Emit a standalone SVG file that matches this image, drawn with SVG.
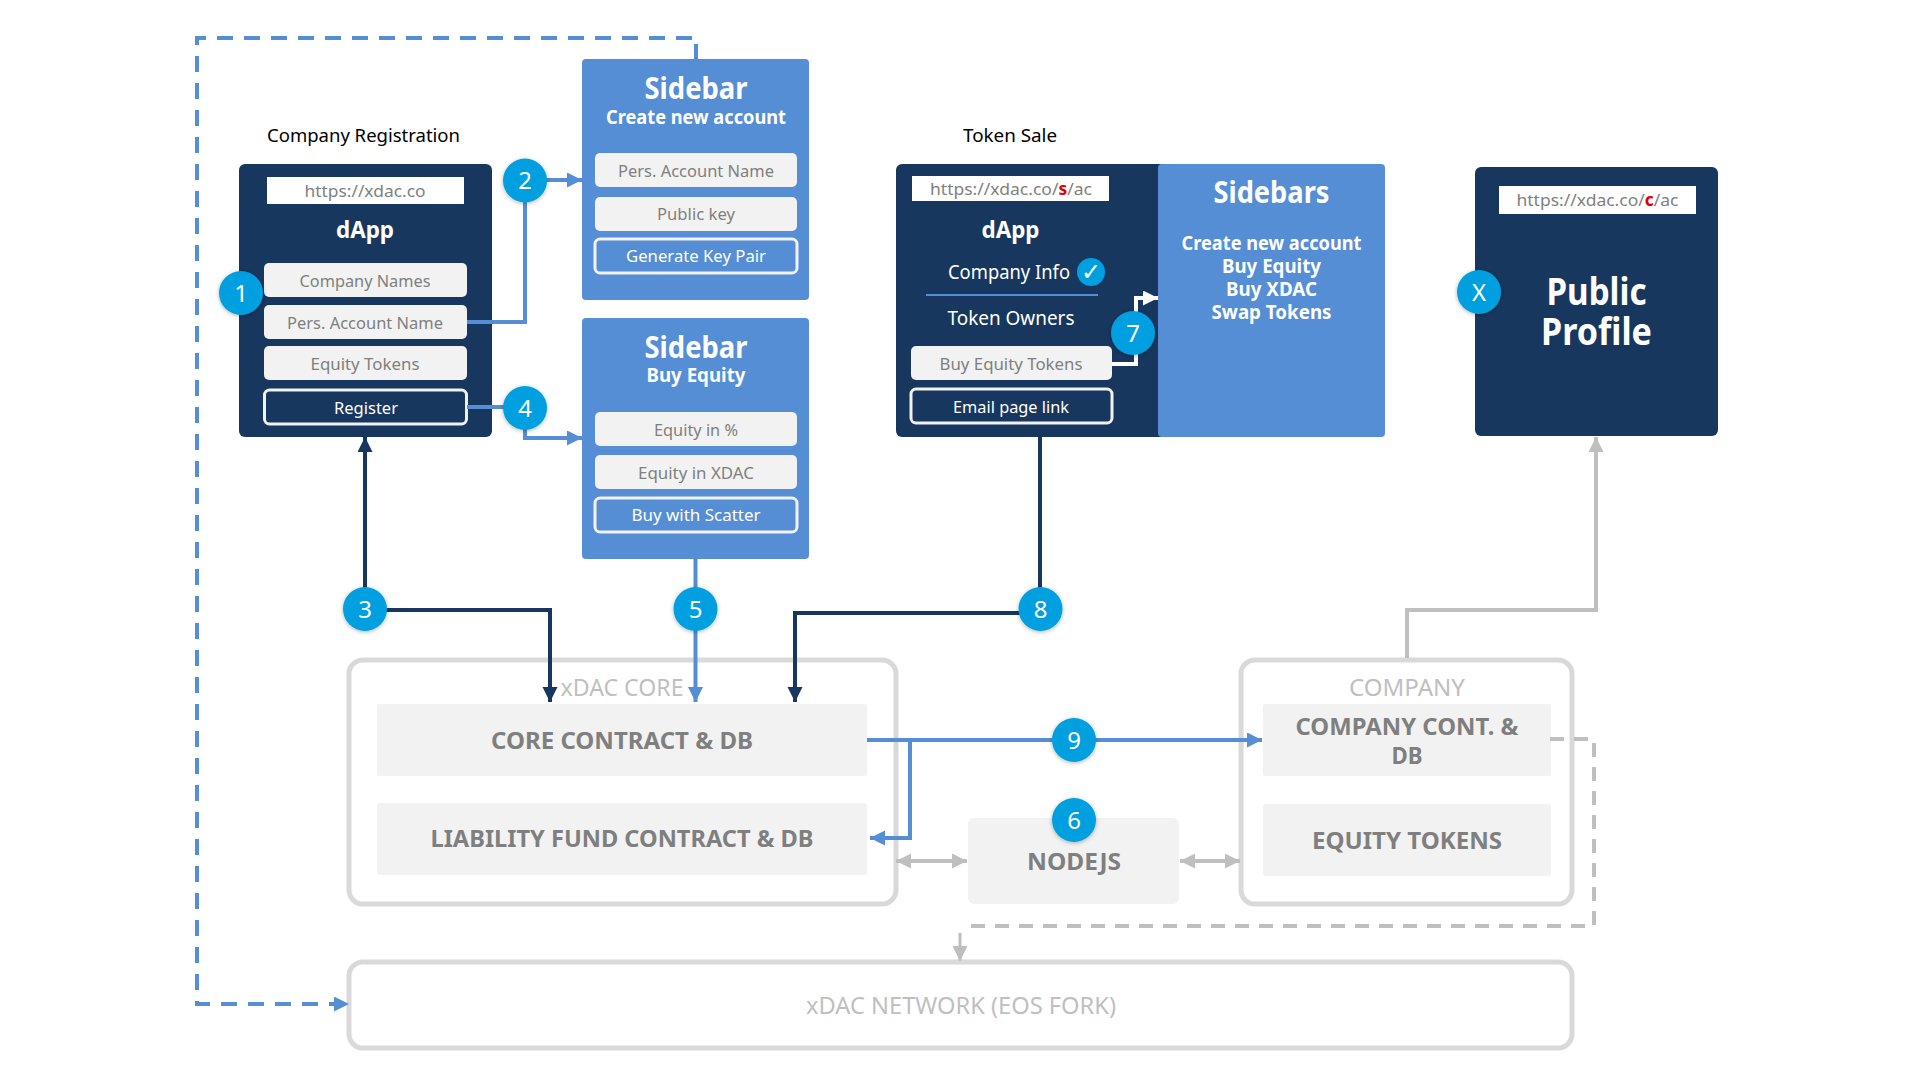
<svg xmlns="http://www.w3.org/2000/svg" width="1920" height="1080" viewBox="0 0 1920 1080">
<style>
text{font-family:"Noto Sans","Open Sans","Liberation Sans",sans-serif;text-anchor:middle}
.panel{fill:#17375e}
.side{fill:#558ed5}
.field{fill:#f2f2f2}
.btnD{fill:#17375e;stroke:#f2f2f2;stroke-width:3}
.btnS{fill:#558ed5;stroke:#f2f2f2;stroke-width:3}
.url{fill:#fff}
.container{fill:#fff;stroke:#d9d9d9;stroke-width:5}
.ft{font-size:17px;fill:#7f7f7f}
.wt{font-size:17px;fill:#fff}
.cap{font-size:18px;fill:#000}
.h1{font-size:30px;font-weight:700;fill:#fff}
.h2{font-size:20px;font-weight:700;fill:#fff}
.h3{font-size:23px;font-weight:700;fill:#fff}
.pub{font-size:37px;font-weight:700;fill:#fff}
.con{font-size:24px;font-weight:700;fill:#7f7f7f}
.lab{font-size:24px;fill:#bfbfbf}
.badge circle{fill:#009fdf;filter:url(#sh)}
.badge text{font-size:24px;fill:#fff}
.c{fill:none}
.dark{stroke:#17375e;stroke-width:4}
.blue{stroke:#558ed5;stroke-width:4}
.gray{stroke:#bfbfbf;stroke-width:4}
.white{stroke:#fff;stroke-width:4}
.dash{stroke-dasharray:16 11}
</style>
<defs>
<filter id="sh" x="-30%" y="-30%" width="160%" height="160%"><feDropShadow dx="0" dy="1" stdDeviation="2" flood-color="#000" flood-opacity="0.3"/></filter>
<marker id="aD" markerUnits="userSpaceOnUse" markerWidth="16" markerHeight="16" refX="15" refY="7.500" orient="auto"><path d="M0,0L15,7.500L0,15z" fill="#17375e"/></marker>
<marker id="aB" markerUnits="userSpaceOnUse" markerWidth="16" markerHeight="16" refX="15" refY="7.500" orient="auto"><path d="M0,0L15,7.500L0,15z" fill="#558ed5"/></marker>
<marker id="aG" markerUnits="userSpaceOnUse" markerWidth="16" markerHeight="16" refX="15" refY="7.500" orient="auto"><path d="M0,0L15,7.500L0,15z" fill="#bfbfbf"/></marker>
<marker id="aGs" markerUnits="userSpaceOnUse" markerWidth="16" markerHeight="16" refX="15" refY="7.500" orient="auto-start-reverse"><path d="M0,0L15,7.500L0,15z" fill="#bfbfbf"/></marker>
<marker id="aW" markerUnits="userSpaceOnUse" markerWidth="16" markerHeight="16" refX="15" refY="7.500" orient="auto"><path d="M0,0L15,7.500L0,15z" fill="#fff"/></marker>
</defs>

<text class="cap" x="363.500" y="142" textLength="193" lengthAdjust="spacingAndGlyphs">Company Registration</text>
<text class="cap" x="1010" y="142" textLength="94" lengthAdjust="spacingAndGlyphs">Token Sale</text>

<g id="node-dapp-registration">
<rect class="panel" x="239" y="164" width="253" height="273" rx="6"/>
<rect class="url" x="267" y="177" width="197" height="27"/>
<text class="ft" x="365" y="197" textLength="121" lengthAdjust="spacingAndGlyphs">https://xdac.co</text>
<text class="h3" x="365" y="238" textLength="58" lengthAdjust="spacingAndGlyphs">dApp</text>
<rect class="field" x="264" y="263" width="203" height="34" rx="5"/>
<text class="ft" x="365" y="287" textLength="131" lengthAdjust="spacingAndGlyphs">Company Names</text>
<rect class="field" x="264" y="305" width="203" height="34" rx="5"/>
<text class="ft" x="365" y="329" textLength="156" lengthAdjust="spacingAndGlyphs">Pers. Account Name</text>
<rect class="field" x="264" y="346" width="203" height="34" rx="5"/>
<text class="ft" x="365" y="370" textLength="109" lengthAdjust="spacingAndGlyphs">Equity Tokens</text>
<rect class="btnD" x="264.500" y="390" width="202" height="34" rx="5"/>
<text class="wt" x="366" y="414" textLength="64" lengthAdjust="spacingAndGlyphs">Register</text>
</g>

<g id="node-sidebar-create">
<rect class="side" x="582" y="59" width="227" height="241" rx="4"/>
<text class="h1" x="696" y="99" textLength="103" lengthAdjust="spacingAndGlyphs">Sidebar</text>
<text class="h2" x="696" y="124" textLength="180" lengthAdjust="spacingAndGlyphs">Create new account</text>
<rect class="field" x="595" y="153" width="202" height="34" rx="5"/>
<text class="ft" x="696" y="177" textLength="156" lengthAdjust="spacingAndGlyphs">Pers. Account Name</text>
<rect class="field" x="595" y="197" width="202" height="34" rx="5"/>
<text class="ft" x="696" y="220" textLength="78" lengthAdjust="spacingAndGlyphs">Public key</text>
<rect class="btnS" x="595" y="239" width="202" height="34" rx="5"/>
<text class="wt" x="696" y="262" textLength="140" lengthAdjust="spacingAndGlyphs">Generate Key Pair</text>
</g>

<g id="node-sidebar-buy">
<rect class="side" x="582" y="318" width="227" height="241" rx="4"/>
<text class="h1" x="696" y="358" textLength="103" lengthAdjust="spacingAndGlyphs">Sidebar</text>
<text class="h2" x="696" y="382" textLength="99" lengthAdjust="spacingAndGlyphs">Buy Equity</text>
<rect class="field" x="595" y="412" width="202" height="34" rx="5"/>
<text class="ft" x="696" y="436" textLength="84" lengthAdjust="spacingAndGlyphs">Equity in %</text>
<rect class="field" x="595" y="455" width="202" height="34" rx="5"/>
<text class="ft" x="696" y="479" textLength="116" lengthAdjust="spacingAndGlyphs">Equity in XDAC</text>
<rect class="btnS" x="595" y="498" width="202" height="34" rx="5"/>
<text class="wt" x="696" y="521" textLength="129" lengthAdjust="spacingAndGlyphs">Buy with Scatter</text>
</g>

<g id="node-token-sale">
<rect class="panel" x="896" y="164" width="280" height="273" rx="6"/>
<rect class="url" x="912" y="176" width="197" height="25"/>
<text class="ft" x="1011" y="195" textLength="162" lengthAdjust="spacingAndGlyphs">https://xdac.co/<tspan fill="#e00000" font-weight="700">s</tspan>/ac</text>
<text class="h3" x="1010.500" y="238" textLength="58" lengthAdjust="spacingAndGlyphs">dApp</text>
<text class="wt" x="1009" y="279" style="font-size:19px" textLength="122" lengthAdjust="spacingAndGlyphs">Company Info</text>
<circle cx="1091" cy="272" r="14" fill="#009fdf"/>
<text x="1091" y="280" style="font-family:'DejaVu Sans',sans-serif;font-size:24px;fill:#fff">✓</text>
<rect x="926" y="294" width="172" height="2" fill="#558ed5"/>
<text class="wt" x="1011" y="325" style="font-size:19px" textLength="127" lengthAdjust="spacingAndGlyphs">Token Owners</text>
<rect class="field" x="911" y="346" width="201" height="34" rx="5"/>
<text class="ft" x="1011" y="370" textLength="143" lengthAdjust="spacingAndGlyphs">Buy Equity Tokens</text>
<rect class="btnD" x="911" y="389" width="201" height="34" rx="5"/>
<text class="wt" x="1011" y="413" textLength="116" lengthAdjust="spacingAndGlyphs">Email page link</text>
</g>

<g id="node-sidebars">
<rect class="side" x="1158" y="164" width="227" height="273" rx="4"/>
<text class="h1" x="1271.500" y="203" textLength="116" lengthAdjust="spacingAndGlyphs">Sidebars</text>
<text class="h2" x="1271.500" y="250" textLength="180" lengthAdjust="spacingAndGlyphs">Create new account</text>
<text class="h2" x="1271.500" y="273" textLength="99" lengthAdjust="spacingAndGlyphs">Buy Equity</text>
<text class="h2" x="1271.500" y="296" textLength="91" lengthAdjust="spacingAndGlyphs">Buy XDAC</text>
<text class="h2" x="1271.500" y="319" textLength="120" lengthAdjust="spacingAndGlyphs">Swap Tokens</text>
</g>

<g id="node-public-profile">
<rect class="panel" x="1475" y="167" width="243" height="269" rx="6"/>
<rect class="url" x="1499" y="186" width="197" height="28"/>
<text class="ft" x="1597.500" y="206" textLength="162" lengthAdjust="spacingAndGlyphs">https://xdac.co/<tspan fill="#e00000" font-weight="700">c</tspan>/ac</text>
<text class="pub" x="1596.500" y="305" textLength="100" lengthAdjust="spacingAndGlyphs">Public</text>
<text class="pub" x="1596.500" y="345" textLength="111" lengthAdjust="spacingAndGlyphs">Profile</text>
</g>

<g id="node-xdac-core">
<rect class="container" x="349" y="660" width="547" height="244" rx="14"/>
<text class="lab" x="622" y="696" textLength="123" lengthAdjust="spacingAndGlyphs">xDAC CORE</text>
<rect class="field" x="377" y="704" width="490" height="72" rx="3"/>
<text class="con" x="622" y="749" textLength="262" lengthAdjust="spacingAndGlyphs">CORE CONTRACT &amp; DB</text>
<rect class="field" x="377" y="803" width="490" height="72" rx="3"/>
<text class="con" x="622" y="847" textLength="383" lengthAdjust="spacingAndGlyphs">LIABILITY FUND CONTRACT &amp; DB</text>
</g>

<g id="node-nodejs">
<rect class="field" x="968" y="818" width="211" height="86" rx="6"/>
<text class="con" x="1074" y="870" textLength="94" lengthAdjust="spacingAndGlyphs">NODEJS</text>
</g>

<g id="node-company">
<rect class="container" x="1241" y="660" width="331" height="244" rx="14"/>
<text class="lab" x="1407" y="696" textLength="116" lengthAdjust="spacingAndGlyphs">COMPANY</text>
<rect class="field" x="1263" y="704" width="288" height="72" rx="3"/>
<text class="con" x="1407" y="735" textLength="223" lengthAdjust="spacingAndGlyphs">COMPANY CONT. &amp;</text>
<text class="con" x="1407" y="764" textLength="31" lengthAdjust="spacingAndGlyphs">DB</text>
<rect class="field" x="1263" y="804" width="288" height="72" rx="3"/>
<text class="con" x="1407" y="849" textLength="190" lengthAdjust="spacingAndGlyphs">EQUITY TOKENS</text>
</g>

<g id="node-network">
<rect class="container" x="349" y="962" width="1223" height="86" rx="14"/>
<text class="lab" x="961" y="1014" textLength="310" lengthAdjust="spacingAndGlyphs">xDAC NETWORK (EOS FORK)</text>
</g>

<g id="connectors">
<path class="c blue" d="M696,59V44"/>
<path class="c blue dash" d="M692,38H197V1004H349" marker-end="url(#aB)"/>
<path class="c blue" d="M467,322H525V180H582" marker-end="url(#aB)"/>
<path class="c blue" d="M467,407H525V438H582" marker-end="url(#aB)"/>
<path class="c dark" d="M365,609V437" marker-end="url(#aD)"/>
<path class="c dark" d="M365,610H550V702" marker-end="url(#aD)"/>
<path class="c blue" d="M695.500,559V702" marker-end="url(#aB)"/>
<path class="c dark" d="M1040,437V613H795V702" marker-end="url(#aD)"/>
<path class="c blue" d="M867,740H1262" marker-end="url(#aB)"/>
<path class="c blue" d="M910,740V838H870" marker-end="url(#aB)"/>
<path class="c white" d="M1112,364H1136V298H1158" marker-end="url(#aW)"/>
<path class="c gray" d="M1407,658V610H1596V437" marker-end="url(#aG)"/>
<path class="c gray" d="M896,861H967" marker-start="url(#aGs)" marker-end="url(#aGs)"/>
<path class="c gray" d="M1180,861H1240" marker-start="url(#aGs)" marker-end="url(#aGs)"/>
<path class="c gray dash" d="M1550,739H1594V926H966" style="stroke-dasharray:14 10"/>
<path class="c gray" d="M960,933V961" style="stroke-width:3" marker-end="url(#aG)"/>
</g>

<g id="badge-1" class="badge"><circle cx="241" cy="293" r="22"/><text x="241" y="301.500">1</text></g>
<g id="badge-2" class="badge"><circle cx="525" cy="180.500" r="22"/><text x="525" y="189">2</text></g>
<g id="badge-3" class="badge"><circle cx="365" cy="609" r="22"/><text x="365" y="617.500">3</text></g>
<g id="badge-4" class="badge"><circle cx="525" cy="408" r="22"/><text x="525" y="416.500">4</text></g>
<g id="badge-5" class="badge"><circle cx="695.500" cy="609" r="22"/><text x="695.500" y="617.500">5</text></g>
<g id="badge-6" class="badge"><circle cx="1074" cy="820" r="22"/><text x="1074" y="828.500">6</text></g>
<g id="badge-7" class="badge"><circle cx="1133" cy="333" r="22"/><text x="1133" y="341.500">7</text></g>
<g id="badge-8" class="badge"><circle cx="1040.500" cy="609" r="22"/><text x="1040.500" y="617.500">8</text></g>
<g id="badge-9" class="badge"><circle cx="1074" cy="740" r="22"/><text x="1074" y="748.500">9</text></g>
<g id="badge-x" class="badge"><circle cx="1479" cy="292" r="22"/><text x="1479" y="300.500">X</text></g>
</svg>
